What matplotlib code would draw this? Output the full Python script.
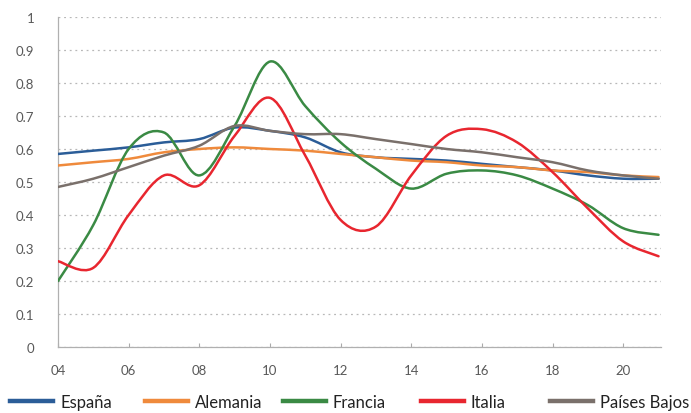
#!/usr/bin/env python3
# -*- coding: utf-8 -*-
# Smoothed country series 2004-2021, drawn as cubic Bezier curves

import matplotlib
matplotlib.use("Agg")
import matplotlib.pyplot as plt
from matplotlib.lines import Line2D
from matplotlib.patches import PathPatch
from matplotlib.path import Path
import numpy as np

# -----------------------------------------------------------------------------
# Data
# -----------------------------------------------------------------------------

years = list(range(2004, 2022))
tick_years = [2004, 2006, 2008, 2010, 2012, 2014, 2016, 2018, 2020]
tick_labels = ["04", "06", "08", "10", "12", "14", "16", "18", "20"]

espana = [0.585, 0.595, 0.605, 0.62, 0.63, 0.665, 0.655, 0.635, 0.59, 0.575,
          0.57, 0.565, 0.555, 0.545, 0.535, 0.52, 0.51, 0.51]
alemania = [0.55, 0.56, 0.57, 0.59, 0.60, 0.605, 0.60, 0.595, 0.585, 0.575,
            0.565, 0.56, 0.55, 0.545, 0.535, 0.53, 0.52, 0.515]
francia = [0.20, 0.37, 0.60, 0.65, 0.52, 0.67, 0.865, 0.73, 0.62, 0.54,
           0.48, 0.525, 0.535, 0.52, 0.48, 0.43, 0.36, 0.34]
italia = [0.26, 0.24, 0.40, 0.52, 0.49, 0.64, 0.755, 0.58, 0.385, 0.365,
          0.52, 0.64, 0.66, 0.62, 0.53, 0.42, 0.32, 0.275]
paises_bajos = [0.485, 0.51, 0.545, 0.58, 0.61, 0.67, 0.655, 0.645, 0.645, 0.63,
                0.615, 0.60, 0.59, 0.575, 0.56, 0.535, 0.52, 0.51]

names = ["España", "Alemania", "Francia", "Italia", "Países Bajos"]
series = [espana, alemania, francia, italia, paises_bajos]
colors = ["#2b5d98", "#ef8a3c", "#3a8a44", "#e8262f", "#7a706b"]

# left edge of each legend entry (pixels), equal-width slots
legend_x = [10, 145, 283, 421, 550]


# -----------------------------------------------------------------------------
# Function : smooth_path
# Description :
#   Build a spreadsheet-style smoothed path: cubic Bezier segments whose
#   control points follow the neighbouring points (Catmull-Rom tangents).
# -----------------------------------------------------------------------------
def smooth_path(x, y) -> Path:
    pts = np.column_stack([x, y]).astype(float)
    n = len(pts)
    verts = [pts[0]]
    codes = [Path.MOVETO]
    for i in range(n - 1):
        p0 = pts[i - 1] if i > 0 else pts[i]
        p1 = pts[i]
        p2 = pts[i + 1]
        p3 = pts[i + 2] if i + 2 < n else pts[i + 1]
        c1 = p1 + (p2 - p0) / 6.0
        c2 = p2 - (p3 - p1) / 6.0
        verts += [c1, c2, p2]
        codes += [Path.CURVE4] * 3
    return Path(verts, codes)


def main() -> None:
    plt.rcParams["font.family"] = ["Lato", "DejaVu Sans"]
    W, H = 691, 414
    fig = plt.figure(figsize=(W / 100, H / 100), dpi=100)
    ax = fig.add_axes([58 / W, 1 - 348 / H, (661 - 58) / W, (348 - 18) / H])

    handles = []
    for name, vals, col in zip(names, series, colors):
        patch = PathPatch(smooth_path(years, vals), facecolor="none",
                          edgecolor=col, lw=1.8, capstyle="round", zorder=3)
        ax.add_patch(patch)
        handles.append(Line2D([], [], color=col, lw=3.2, label=name))

    ax.set_xlim(2004, 2021.07)
    ax.set_ylim(0, 1)
    ax.set_yticks(np.arange(0, 1.01, 0.1))
    ax.set_yticklabels(["0", "0.1", "0.2", "0.3", "0.4", "0.5",
                        "0.6", "0.7", "0.8", "0.9", "1"])
    ax.set_xticks(tick_years)
    ax.set_xticklabels(tick_labels)
    ax.tick_params(axis="y", labelsize=9.5, colors="#595959", length=0, pad=17)
    ax.tick_params(axis="x", labelsize=9.5, labelcolor="#595959", direction="in",
                   length=3, color="#aaaaaa", pad=12)

    ax.yaxis.grid(True, color="#b8b8b8", linestyle=(0, (1.5, 3)), lw=0.9)
    ax.set_axisbelow(True)
    for side in ["top", "right"]:
        ax.spines[side].set_visible(False)
    for side in ["left", "bottom"]:
        ax.spines[side].set_color("#b0b0b0")
        ax.spines[side].set_linewidth(0.9)

    # one legend entry per slot along the bottom edge
    for h, x0 in zip(handles, legend_x):
        leg = fig.legend(handles=[h], loc="center left", frameon=False,
                         bbox_to_anchor=(x0 / W, 1 - 403 / H), fontsize=12,
                         handlelength=2.6, handletextpad=0.4,
                         borderpad=0, borderaxespad=0)
        for t in leg.get_texts():
            t.set_color("#222222")

    fig.savefig("out.png", dpi=100)


if __name__ == "__main__":
    main()
